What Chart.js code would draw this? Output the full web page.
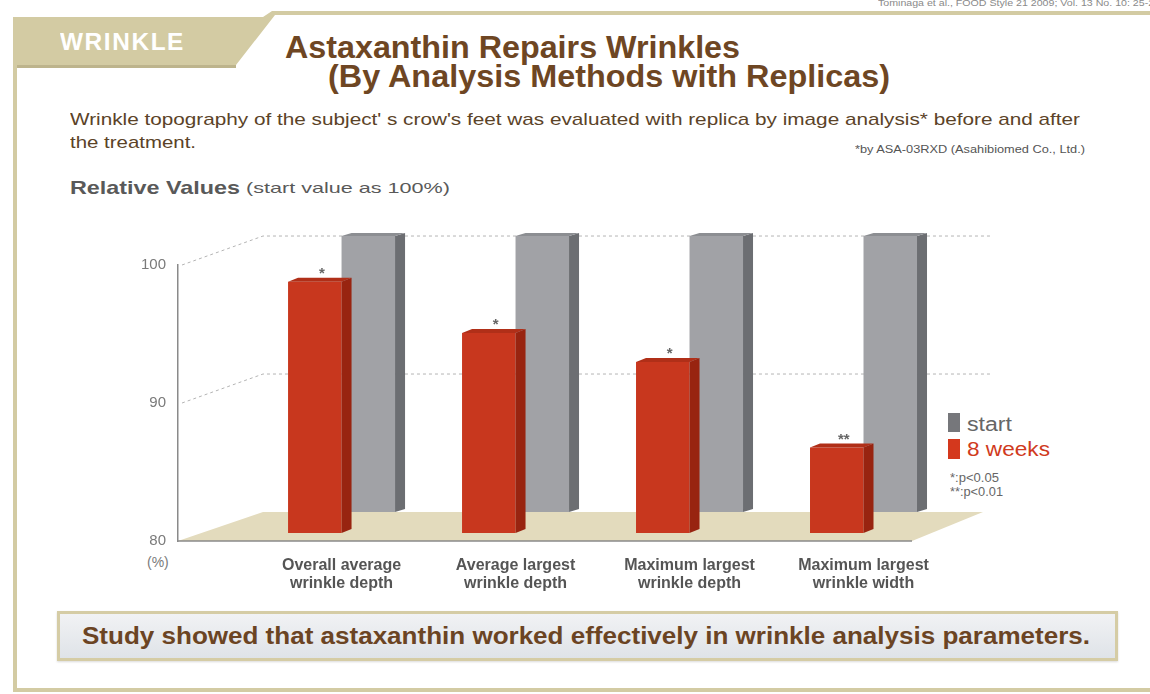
<!DOCTYPE html>
<html><head><meta charset="utf-8">
<script src="https://cdn.jsdelivr.net/npm/chart.js@4.4.1/dist/chart.umd.min.js"></script>
<style>
html,body{margin:0;padding:0;background:#fff;}
#page{position:relative;width:1150px;height:694px;overflow:hidden;background:#fff;font-family:"Liberation Sans",Arial,sans-serif;}
.t{position:absolute;white-space:nowrap;line-height:1;transform-origin:0 50%;}
#chart{position:absolute;left:0;top:0;}
.sq{position:absolute;}
#banner{position:absolute;left:57px;top:611px;width:1055px;height:44px;border:3px solid #d5cca5;background:linear-gradient(#f1f2f4,#dfe3e8);box-shadow:0 1px 2px rgba(0,0,0,0.15);}
</style></head><body>
<div id="page">
<svg width="1150" height="694" style="position:absolute;left:0;top:0">
  <polygon points="13,17 263,17 272,11 1150,11 1150,15 275,15 236,65 13,65" fill="#d3cba3"/>
  <rect x="13" y="65" width="223" height="3" fill="#bdb48c"/>
  <rect x="13" y="65" width="4" height="627" fill="#d3cba3"/>
  <rect x="13" y="688" width="1137" height="4" fill="#d3cba3"/>
</svg>
<div class="t" data-w="282" style="left:878px;top:-1px;font-size:9px;color:#8a8a8a;">Tominaga et al., FOOD Style 21 2009; Vol. 13 No. 10: 25-29</div>
<div class="t" data-w="125" style="left:60px;top:31px;font-size:23px;font-weight:bold;color:#fff;letter-spacing:1.5px;">WRINKLE</div>
<div class="t" data-w="455" style="left:285px;top:31px;font-size:32px;font-weight:bold;color:#6e4623;">Astaxanthin Repairs Wrinkles</div>
<div class="t" data-w="562" style="left:328px;top:60px;font-size:32px;font-weight:bold;color:#6e4623;">(By Analysis Methods with Replicas)</div>
<div class="t" data-w="1010" style="left:70px;top:111px;font-size:17px;color:#5b4328;">Wrinkle topography of the subject' s crow's feet was evaluated with replica by image analysis* before and after</div>
<div class="t" data-w="126" style="left:70px;top:134px;font-size:17px;color:#5b4328;">the treatment.</div>
<div class="t" data-w="230" style="left:855px;top:145px;font-size:10px;color:#555;">*by ASA-03RXD (Asahibiomed Co., Ltd.)</div>
<div class="t" data-w="170" style="left:70px;top:178px;font-size:19px;font-weight:bold;color:#595959;">Relative Values</div>
<div class="t" data-w="204" style="left:246px;top:180px;font-size:15px;color:#595959;">(start value as 100%)</div>
<div class="t" style="left:147px;top:555px;font-size:14px;color:#7a7a7a;">(%)</div>
<div class="sq" style="left:948px;top:413px;width:12px;height:19px;background:#76777b;"></div>
<div class="t" data-w="45" style="left:967px;top:414px;font-size:20px;color:#666;">start</div>
<div class="sq" style="left:948px;top:439px;width:12px;height:20px;background:#d4381d;"></div>
<div class="t" data-w="83" style="left:967px;top:439px;font-size:20px;color:#d03a20;">8 weeks</div>
<div class="t" data-w="49" style="left:950px;top:472px;font-size:12px;color:#666;">*:p&lt;0.05</div>
<div class="t" data-w="53" style="left:950px;top:486px;font-size:12px;color:#666;">**:p&lt;0.01</div>
<div id="banner"></div>
<div class="t" data-w="1008" style="left:82px;top:625px;font-size:23px;font-weight:bold;color:#6b4423;">Study showed that astaxanthin worked effectively in wrinkle analysis parameters.</div>
<canvas id="chart" width="1150" height="694"></canvas>
</div>
<script>
// ---- data ----
const categories = [
  ["Overall average", "wrinkle depth"],
  ["Average largest", "wrinkle depth"],
  ["Maximum largest", "wrinkle depth"],
  ["Maximum largest", "wrinkle width"]
];
const seriesNames = ["8 weeks", "start"];
const weeks8Values = [98.2, 94.5, 92.4, 86.2];
const startValues = [100, 100, 100, 100];
const significance = ["*", "*", "*", "**"];
const yTicks = [80, 90, 100];

// fit text widths
document.querySelectorAll('[data-w]').forEach(el => {
  const w = el.getBoundingClientRect().width;
  el.style.transform = 'scaleX(' + (+el.dataset.w / w) + ')';
});

Chart.defaults.font.family = '"Liberation Sans", Arial, sans-serif';

const scene3d = {
  id: 'scene3d',
  beforeDatasetsDraw(chart) {
    const {ctx, chartArea: a, scales: {y, yb}} = chart;
    const depthL = 85, depthR = 71;
    const f80 = y.getPixelForValue(yTicks[0]), b80 = yb.getPixelForValue(yTicks[0]);
    const backRight = a.right - 7;
    ctx.save();
    ctx.fillStyle = '#e3dbbd';
    ctx.beginPath();
    ctx.moveTo(a.left, f80); ctx.lineTo(a.left + depthL, b80);
    ctx.lineTo(backRight, b80); ctx.lineTo(backRight - depthR, f80);
    ctx.closePath(); ctx.fill();
    ctx.setLineDash([3, 3]); ctx.strokeStyle = '#b4b4b4'; ctx.lineWidth = 1;
    yTicks.slice(1).forEach(v => {
      const fy = y.getPixelForValue(v), by = yb.getPixelForValue(v);
      ctx.beginPath(); ctx.moveTo(a.left + 4, fy); ctx.lineTo(a.left + depthL, by);
      ctx.lineTo(a.right, by); ctx.stroke();
    });
    ctx.setLineDash([]);
    ctx.strokeStyle = '#8a8a8a'; ctx.lineWidth = 1.5;
    ctx.beginPath(); ctx.moveTo(a.left, f80); ctx.lineTo(backRight - depthR, f80); ctx.stroke();
    ctx.restore();
  },
  afterDatasetDraw(chart, args) {
    const ds = chart.data.datasets[args.index];
    const ctx = chart.ctx;
    ctx.save();
    args.meta.data.forEach(el => {
      const {x, y, base, width} = el.getProps(['x', 'y', 'base', 'width'], true);
      const l = x - width / 2, r = x + width / 2, dx = ds.depthX, dy = ds.depthY;
      ctx.fillStyle = ds.sideColor;
      ctx.beginPath(); ctx.moveTo(r, y); ctx.lineTo(r + dx, y - dy); ctx.lineTo(r + dx, base - dy); ctx.lineTo(r, base); ctx.closePath(); ctx.fill();
      ctx.fillStyle = ds.topColor;
      ctx.beginPath(); ctx.moveTo(l, y); ctx.lineTo(l + dx, y - dy); ctx.lineTo(r + dx, y - dy); ctx.lineTo(r, y); ctx.closePath(); ctx.fill();
    });
    ctx.restore();
  },
  afterDatasetsDraw(chart) {
    const ctx = chart.ctx;
    const meta = chart.getDatasetMeta(0);
    ctx.save();
    ctx.fillStyle = '#666';
    ctx.font = 'bold 15px "Liberation Sans", Arial, sans-serif';
    ctx.textAlign = 'center'; ctx.textBaseline = 'middle';
    meta.data.forEach((el, i) => {
      const {x, y} = el.getProps(['x', 'y'], true);
      ctx.fillText(significance[i], x + 7, y - 8);
    });
    ctx.restore();
  }
};

new Chart(document.getElementById('chart'), {
  type: 'bar',
  data: {
    datasets: [
      { label: seriesNames[0], data: weeks8Values.map((v, i) => ({x: i, y: v})), yAxisID: 'yr',
        backgroundColor: '#c8371e', base: 80, clip: false,
        sideColor: '#982410', topColor: '#b02f18', depthX: 10, depthY: 4 },
      { label: seriesNames[1], data: startValues.map((v, i) => ({x: i, y: v})), yAxisID: 'yb',
        backgroundColor: '#a1a2a6', base: 80, clip: false,
        sideColor: '#6c6e72', topColor: '#8c8e92', depthX: 10, depthY: 3 }
    ]
  },
  options: {
    responsive: false,
    animation: false,
    events: [],
    layout: { padding: { left: 0, right: 160, top: 265, bottom: 0 } },
    plugins: { legend: { display: false }, tooltip: { enabled: false } },
    datasets: { bar: { categoryPercentage: 0.615, barPercentage: 1 } },
    scales: {
      x: {
        type: 'linear', min: -0.94, max: 3.727, offset: false,
        grid: { display: false, drawTicks: false, offset: false }, border: { display: false },
        afterBuildTicks: s => { s.ticks = categories.map((c, i) => ({value: i})); },
        afterFit: s => { s.height = 153; },
        ticks: { callback: v => categories[v], autoSkip: false, maxRotation: 0,
                 font: { size: 16, weight: 'bold', lineHeight: 1.1 }, color: '#555', padding: 16 }
      },
      y: {
        type: 'linear', min: 80, max: 100, position: 'left',
        afterBuildTicks: s => { s.ticks = yTicks.map(v => ({value: v})); },
        afterFit: s => { s.width = 178; },
        grid: { display: false, drawTicks: false },
        border: { display: true, color: '#8a8a8a', width: 1.5 },
        ticks: { font: { size: 15 }, color: '#7a7a7a', padding: 12 }
      },
      yr: { type: 'linear', display: false, min: 79.42, max: 99.42 },
      yb: { type: 'linear', display: false, min: 77.9, max: 97.9 }
    }
  },
  plugins: [scene3d]
});
</script>
</body></html>
